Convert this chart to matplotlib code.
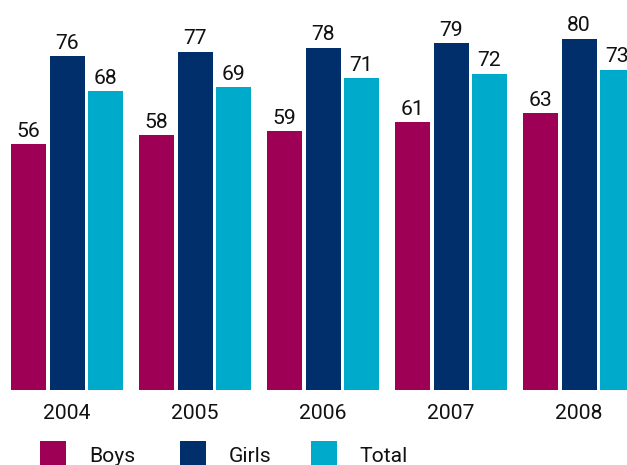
import matplotlib
matplotlib.use("Agg")
import matplotlib.pyplot as plt
from matplotlib.patches import Rectangle
import numpy as np

years = ["2004", "2005", "2006", "2007", "2008"]
series_names = ["Boys", "Girls", "Total"]
boys = [56, 58, 59, 61, 63]
girls = [76, 77, 78, 79, 80]
total = [68, 69, 71, 72, 73]
colors = ["#9E0055", "#002F6C", "#00AACB"]

FONT = ["Roboto", "DejaVu Sans"]
plt.rcParams["font.family"] = FONT

W, H = 627, 465
fig = plt.figure(figsize=(W / 100, H / 100), dpi=100)
base_px = 390
ax = fig.add_axes([0, (H - base_px) / H, 1, base_px / H])

px_per_unit = 128.0
center0 = 67.0
ax.set_xlim(-center0 / px_per_unit, (W - center0) / px_per_unit)
ax.set_ylim(0, base_px / 4.39)

x = np.arange(len(years))
bw = 35 / px_per_unit
off = 38.5 / px_per_unit
for i, (vals, c) in enumerate(zip([boys, girls, total], colors)):
    xs = x + (i - 1) * off
    ax.bar(xs, vals, width=bw, color=c, linewidth=0)
    for xx, v in zip(xs, vals):
        ax.annotate(str(v), (xx, v), xytext=(0, 2.5), textcoords="offset points",
                    ha="center", va="bottom", fontsize=15.2, color="#111111", clip_on=False)

for s in ax.spines.values():
    s.set_visible(False)
ax.patch.set_visible(False)
ax.set_yticks([])
ax.set_xticks(x)
ax.set_xticklabels(years, fontsize=15.2, color="#111111")
ax.tick_params(axis="x", length=0, pad=10)

# legend
legend_sq = [40, 180, 311]
legend_txt = [89, 229, 359]
for sq, tx, name, c in zip(legend_sq, legend_txt, series_names, colors):
    fig.patches.append(Rectangle((sq / W, 0), 26 / W, 24 / H, transform=fig.transFigure,
                                 facecolor=c, edgecolor="none"))
    fig.text(tx / W, 1 - 456 / H, name, ha="left", va="center", fontsize=15.2, color="#111111")

fig.savefig("out.png", dpi=100)
